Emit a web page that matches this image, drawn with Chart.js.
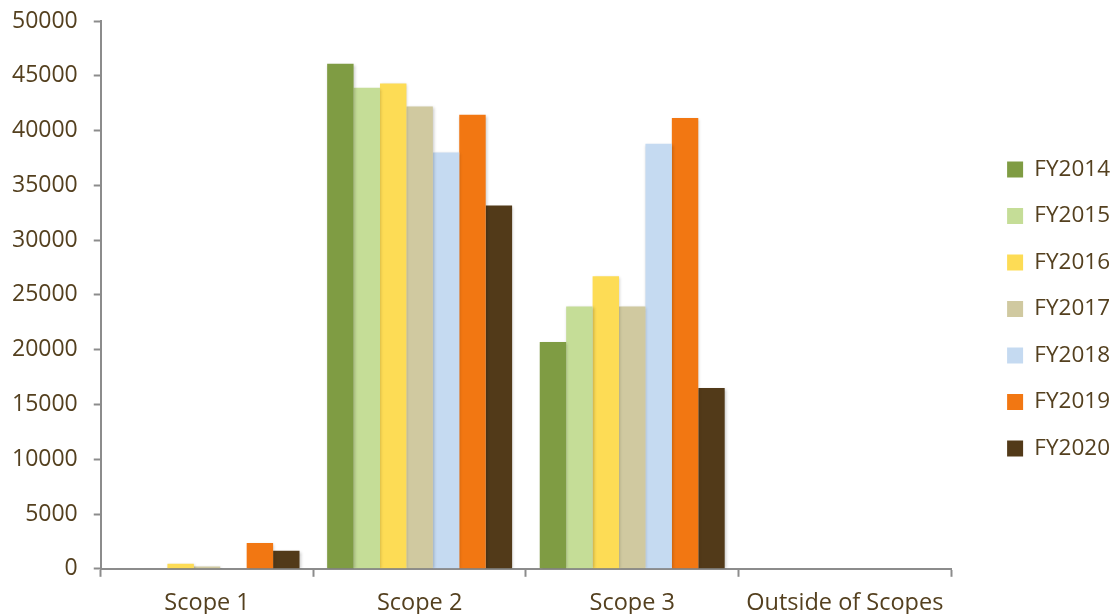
<!DOCTYPE html>
<html>
<head>
<meta charset="utf-8">
<script src="https://cdn.jsdelivr.net/npm/chart.js@4"></script>
<style>
  html, body { margin: 0; padding: 0; background: #fff; }
  canvas { display: block; }
</style>
</head>
<body>
<canvas id="scopes" width="1110" height="614"></canvas>
<script>
const scopes = ['Scope 1', 'Scope 2', 'Scope 3', 'Outside of Scopes'];
const years = ['FY2014', 'FY2015', 'FY2016', 'FY2017', 'FY2018', 'FY2019', 'FY2020'];
const fy2014 = [60, 46100, 20700, 0];
const fy2015 = [60, 43900, 23950, 0];
const fy2016 = [450, 44300, 26700, 0];
const fy2017 = [200, 42200, 23950, 0];
const fy2018 = [60, 38000, 38800, 0];
const fy2019 = [2350, 41450, 41150, 0];
const fy2020 = [1650, 33150, 16500, 0];
const yTicks = [0, 5000, 10000, 15000, 20000, 25000, 30000, 35000, 40000, 45000, 50000];

const series = [fy2014, fy2015, fy2016, fy2017, fy2018, fy2019, fy2020];
const colors = ['#7f9c43', '#c5dd97', '#fddc55', '#d0c9a0', '#c5daf1', '#f27712', '#523a19'];
const textColor = '#54401f';
const axisColor = '#8c8c8c';

Chart.defaults.font.family = '"Open Sans", sans-serif';
Chart.defaults.font.size = 22;
Chart.defaults.color = textColor;

// soft drop shadow under the bars
const barShadow = {
  id: 'barShadow',
  beforeDatasetsDraw(chart) {
    const ctx = chart.ctx;
    ctx.save();
    ctx.shadowColor = 'rgba(0,0,0,0.22)';
    ctx.shadowBlur = 3;
    ctx.shadowOffsetX = 1;
    ctx.shadowOffsetY = 1;
  },
  afterDatasetsDraw(chart) {
    chart.ctx.restore();
  },
};

// push the legend right, away from the plot, and lift it a little
const legendGap = {
  id: 'legendGap',
  afterLayout(chart) {
    chart.legend.left += 32;
    chart.legend.right += 32;
    chart.legend.top -= 16;
    chart.legend.bottom -= 16;
  },
};

new Chart(document.getElementById('scopes'), {
  type: 'bar',
  data: {
    labels: scopes,
    datasets: years.map((year, i) => ({
      label: year,
      data: series[i],
      backgroundColor: colors[i],
      borderWidth: 0,
      categoryPercentage: 0.87,
      barPercentage: 1,
    })),
  },
  options: {
    responsive: false,
    animation: false,
    devicePixelRatio: 1,
    layout: { padding: { top: 21, right: 22, left: -4, bottom: -15 } },
    plugins: {
      tooltip: { enabled: false },
      legend: {
        position: 'right',
        labels: {
          boxWidth: 16,
          boxHeight: 16,
          padding: 24,
          color: textColor,
          font: { size: 22.5 },
        },
      },
    },
    scales: {
      x: {
        grid: {
          display: true,
          offset: true,
          drawOnChartArea: false,
          drawTicks: true,
          tickLength: 8,
          color: axisColor,
          tickWidth: 2,
        },
        border: { color: axisColor, width: 2 },
        ticks: { padding: 12, maxRotation: 0, color: textColor, font: { size: 23.5 } },
      },
      y: {
        min: 0,
        max: 50000,
        afterBuildTicks(axis) {
          axis.ticks = yTicks.map((v) => ({ value: v }));
        },
        afterFit(axis) {
          axis.paddingTop = 0;
        },
        grid: {
          display: true,
          drawOnChartArea: false,
          drawTicks: true,
          tickLength: 7,
          color: axisColor,
          tickWidth: 2,
        },
        border: { color: axisColor, width: 2 },
        ticks: { padding: 16, color: textColor, font: { size: 23 }, callback: (v) => String(v) },
      },
    },
  },
  plugins: [barShadow, legendGap],
});
</script>
</body>
</html>
